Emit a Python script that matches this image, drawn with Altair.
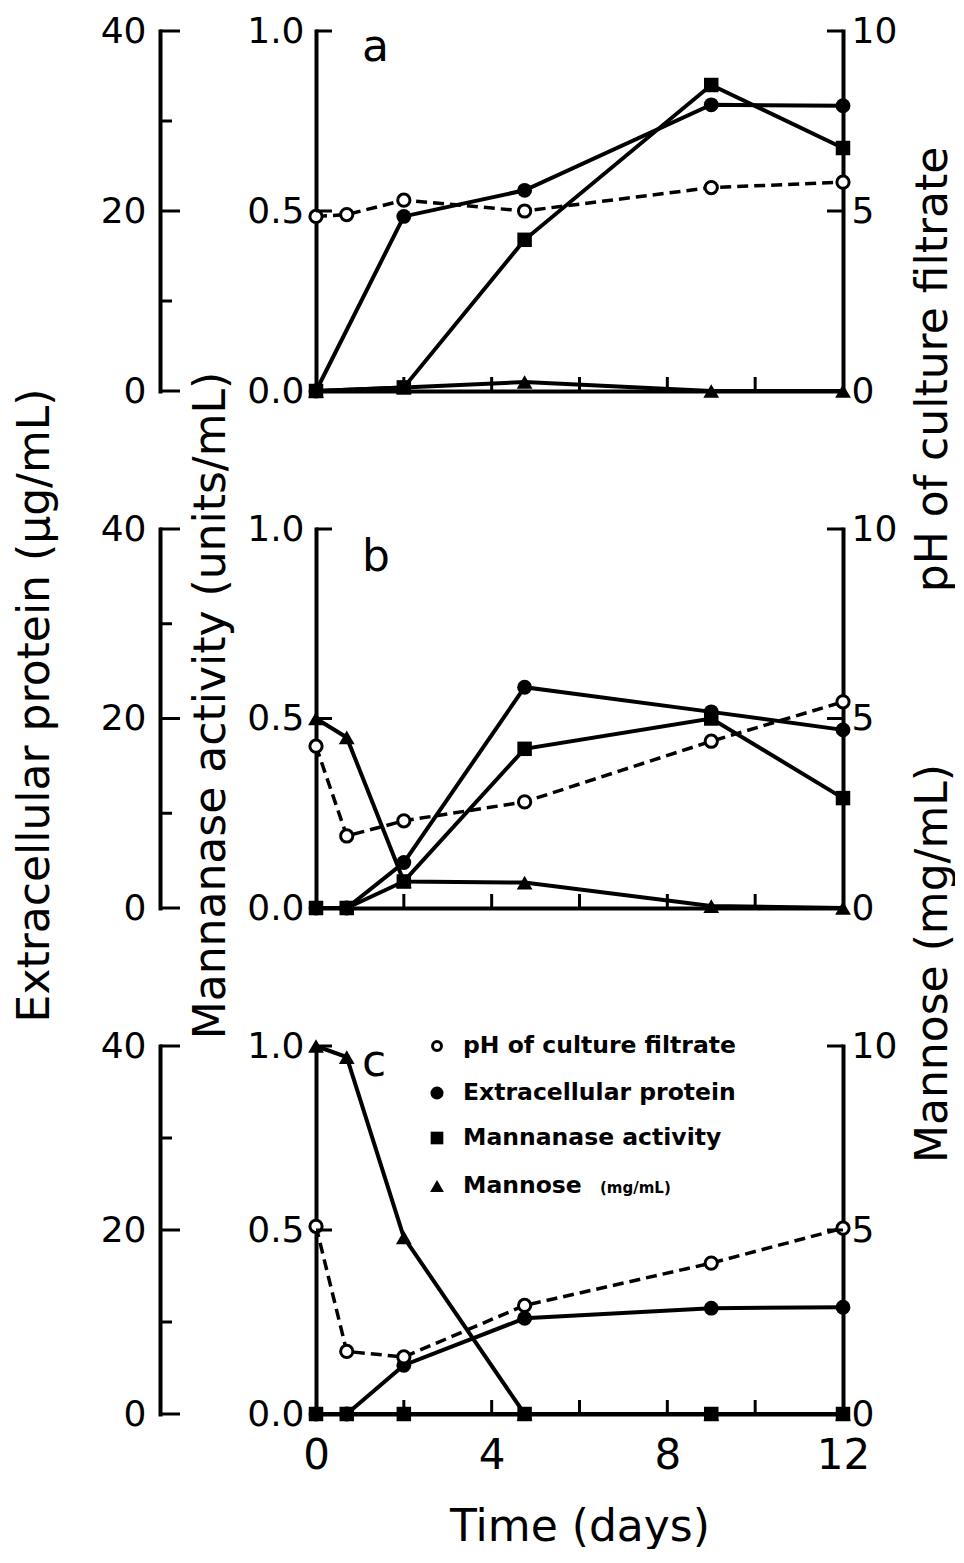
import altair as alt
import pandas as pd

# ---------------- data ----------------
# Panel a
T_A_PH = [0, 0.7, 2, 4.75, 9, 12]
A_PH = [4.85, 4.9, 5.3, 5.0, 5.65, 5.8]
T_A = [0, 2, 4.75, 9, 12]
A_PROTEIN = [0, 19.4, 22.3, 31.8, 31.7]
A_MANNANASE = [0, 0.01, 0.42, 0.85, 0.675]
A_MANNOSE = [0, 0.1, 0.25, 0, 0]

# Panel b
T_B = [0, 0.7, 2, 4.75, 9, 12]
B_PH = [4.27, 1.9, 2.3, 2.8, 4.4, 5.44]
B_PROTEIN = [0, 0, 4.8, 23.3, 20.7, 18.8]
B_MANNANASE = [0, 0, 0.07, 0.42, 0.5, 0.29]
B_MANNOSE = [5.0, 4.5, 0.7, 0.67, 0.05, 0]

# Panel c
T_C = [0, 0.7, 2, 4.75, 9, 12]
C_PH = [5.1, 1.7, 1.55, 2.95, 4.1, 5.05]
C_PROTEIN = [0, 0, 5.3, 10.4, 11.5, 11.6]
C_MANNANASE = [0, 0, 0, 0, 0, 0]
C_MANNOSE = [10, 9.7, 4.8, 0, 0, 0]

# axes / labels
X_TICKS = [2, 4, 6, 8, 10]
X_LABELS = [0, 4, 8, 12]
PROT_LABELS = [0, 20, 40]
PROT_MAJOR = [0, 20, 40]
PROT_MINOR = [10, 30]
MANN_LABELS = [0, 0.5, 1.0]
MANN_TICKS = [0.5, 1.0]
RIGHT_LABELS = [0, 5, 10]
RIGHT_TICKS = [5, 10]
PANEL_LETTERS = ["a", "b", "c"]
LEGEND_LABELS = ["pH of culture filtrate", "Extracellular protein",
                 "Mannanase activity", "Mannose"]
LEGEND_UNIT = "(mg/mL)"
TITLE_X = "Time (days)"
TITLE_PROT = "Extracellular protein (μg/mL)"
TITLE_MANN = "Mannanase activity (units/mL)"
TITLE_PH = "pH of culture filtrate"
TITLE_MOSE = "Mannose  (mg/mL)"

# ---------------- styling ----------------
FONT = "DejaVu Sans"
BLACK = "black"
W = 527
HEIGHTS = [360, 379, 368]
LW = 4
TITLE_FS = 44
TICK_FS = 36


def x_axis(show):
    kw = dict(values=X_LABELS, ticks=False, grid=False, domain=True,
              domainColor=BLACK, domainWidth=LW, domainCap="square",
              labels=show, labelFont=FONT, labelFontSize=42, labelColor=BLACK,
              labelPadding=21, labelFlush=False, labelOverlap=False)
    if show:
        kw.update(title=TITLE_X, titleFont=FONT, titleFontSize=TITLE_FS,
                  titleFontWeight="normal", titleColor=BLACK, titlePadding=29)
    else:
        kw.update(title=None)
    return alt.Axis(**kw)


def y_axis(values, orient, offset=0, fmt=None, title=None, tx=0, ty=0, pad=10):
    kw = dict(orient=orient, values=values, ticks=False, grid=False, domain=True,
              domainColor=BLACK, domainWidth=LW, domainCap="square",
              labelFont=FONT, labelFontSize=TICK_FS, labelColor=BLACK,
              labelPadding=pad, labelOverlap=False, labelFlush=False)
    if offset:
        kw["offset"] = offset
    if fmt:
        kw["format"] = fmt
    if title:
        kw.update(title=title, titleFont=FONT, titleFontSize=TITLE_FS,
                  titleFontWeight="normal", titleColor=BLACK, titleAngle=270,
                  titleAlign="center", titleBaseline="middle", titleX=tx, titleY=ty)
    else:
        kw["title"] = None
    return alt.Axis(**kw)


def make_panel(i, t_ph, ph, t, prot, mann, mose):
    H = HEIGHTS[i]
    X = alt.X("t:Q", scale=alt.Scale(domain=[0, 12], nice=False, zero=False),
              axis=x_axis(i == 2))

    prot_axis = y_axis(PROT_LABELS, "left", offset=156, pad=14,
                       title=TITLE_PROT if i == 1 else None, tx=-125, ty=176)
    mann_axis = y_axis(MANN_LABELS, "left", fmt=".1f", pad=12,
                       title=TITLE_MANN if i == 1 else None, tx=-105, ty=176)
    if i == 0:
        ph_axis = y_axis(RIGHT_LABELS, "right", pad=8, title=TITLE_PH, tx=90, ty=338)
    elif i == 1:
        ph_axis = y_axis(RIGHT_LABELS, "right", pad=8, title=TITLE_MOSE, tx=90, ty=434)
    else:
        ph_axis = y_axis(RIGHT_LABELS, "right", pad=8)

    s_prot = alt.Scale(domain=[0, 40], nice=False)
    s_mann = alt.Scale(domain=[0, 1], nice=False)
    s_ten = alt.Scale(domain=[0, 10], nice=False)

    df = pd.DataFrame({"t": t, "prot": prot, "mann": mann, "mose": mose})
    df_ph = pd.DataFrame({"t": t_ph, "ph": ph})

    mannose = alt.Chart(df).mark_line(
        color=BLACK, strokeWidth=LW,
        point=alt.OverlayMarkDef(shape="triangle-up", size=250, filled=True, color=BLACK)
    ).encode(x=X, y=alt.Y("mose:Q", scale=s_ten, axis=None))

    mannanase = alt.Chart(df).mark_line(
        color=BLACK, strokeWidth=LW,
        point=alt.OverlayMarkDef(shape="square", size=210, filled=True, color=BLACK)
    ).encode(x=X, y=alt.Y("mann:Q", scale=s_mann, axis=mann_axis))

    protein = alt.Chart(df).mark_line(
        color=BLACK, strokeWidth=LW,
        point=alt.OverlayMarkDef(shape="circle", size=220, filled=True, color=BLACK)
    ).encode(x=X, y=alt.Y("prot:Q", scale=s_prot, axis=prot_axis))

    ph_line = alt.Chart(df_ph).mark_line(
        color=BLACK, strokeWidth=3.5, strokeDash=[11, 6]
    ).encode(x=X, y=alt.Y("ph:Q", scale=s_ten, axis=ph_axis))
    ph_pts = alt.Chart(df_ph).mark_point(
        shape="circle", size=150, filled=True, fill="white", stroke=BLACK,
        strokeWidth=3, opacity=1
    ).encode(x=X, y=alt.Y("ph:Q", scale=s_ten, axis=ph_axis))
    ph_layer = alt.layer(ph_line, ph_pts)

    # inward ticks
    xt = alt.Chart(pd.DataFrame({"t": X_TICKS})).mark_rule(
        color=BLACK, strokeWidth=3).encode(
        x=X, y=alt.value(H), y2=alt.value(H - 14))
    ot_major = alt.Chart(pd.DataFrame({"v": PROT_MAJOR})).mark_rule(
        color=BLACK, strokeWidth=3).encode(
        x=alt.value(-156), x2=alt.value(-136),
        y=alt.Y("v:Q", scale=s_prot, axis=None))
    ot_minor = alt.Chart(pd.DataFrame({"v": PROT_MINOR})).mark_rule(
        color=BLACK, strokeWidth=3).encode(
        x=alt.value(-156), x2=alt.value(-144),
        y=alt.Y("v:Q", scale=s_prot, axis=None))
    it = alt.Chart(pd.DataFrame({"v": MANN_TICKS})).mark_rule(
        color=BLACK, strokeWidth=3).encode(
        x=alt.value(0), x2=alt.value(16),
        y=alt.Y("v:Q", scale=s_mann, axis=None))
    rt = alt.Chart(pd.DataFrame({"v": RIGHT_TICKS})).mark_rule(
        color=BLACK, strokeWidth=3).encode(
        x=alt.value(W), x2=alt.value(W - 16),
        y=alt.Y("v:Q", scale=s_ten, axis=None))

    letter_y = [30, 42, 30][i]
    letter = alt.Chart(pd.DataFrame({"letter": [PANEL_LETTERS[i]]})).mark_text(
        font=FONT, fontSize=44, align="left", baseline="alphabetic", color=BLACK
    ).encode(x=alt.value(46), y=alt.value(letter_y), text="letter:N")

    layers = [mannose, mannanase, protein, ph_layer, xt, ot_major, ot_minor, it, rt, letter]

    if i == 2:
        one = pd.DataFrame({"k": [0]})
        rows = [0, 47, 92, 140]
        sym = [
            dict(shape="circle", size=80, filled=True, fill="white", stroke=BLACK, strokeWidth=3),
            dict(shape="circle", size=170, filled=True, color=BLACK),
            dict(shape="square", size=160, filled=True, color=BLACK),
            dict(shape="triangle-up", size=190, filled=True, color=BLACK),
        ]
        for k in range(4):
            layers.append(alt.Chart(one).mark_point(opacity=1, **sym[k]).encode(
                x=alt.value(121), y=alt.value(rows[k])))
            layers.append(alt.Chart(one).mark_text(
                text=LEGEND_LABELS[k], font=FONT, fontSize=23.5, fontWeight="bold",
                align="left", baseline="middle", color=BLACK
            ).encode(x=alt.value(147), y=alt.value(rows[k])))
        layers.append(alt.Chart(one).mark_text(
            text=LEGEND_UNIT, font=FONT, fontSize=15, fontWeight="bold",
            align="left", baseline="middle", color=BLACK
        ).encode(x=alt.value(284), y=alt.value(rows[3] + 2)))

    return alt.layer(*layers).resolve_scale(y="independent").properties(
        width=W, height=H)


pa = make_panel(0, T_A_PH, A_PH, T_A, A_PROTEIN, A_MANNANASE, A_MANNOSE)
pb = make_panel(1, T_B, B_PH, T_B, B_PROTEIN, B_MANNANASE, B_MANNOSE)
pc = make_panel(2, T_C, C_PH, T_C, C_PROTEIN, C_MANNANASE, C_MANNOSE)

chart = alt.vconcat(pa, pb, pc, spacing=138, bounds="flush").properties(
    padding={"left": 5, "top": 5, "right": 0, "bottom": 0},
    background="white",
).configure_view(stroke=None)

chart.save("out.html", embed_options={"renderer": "svg", "actions": False})
